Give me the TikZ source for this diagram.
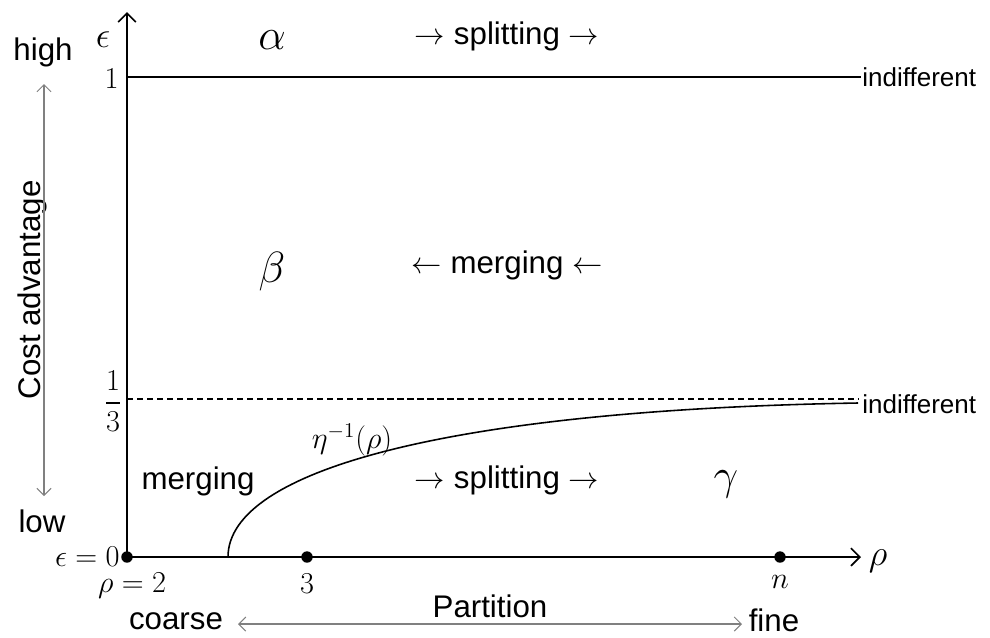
\documentclass[tikz,border=0pt]{standalone}
\usepackage{amsmath}
\usepackage{fontspec}
\setmainfont{Liberation Sans}
\usetikzlibrary{arrows.meta}
\begin{document}
\begin{tikzpicture}[x=0.02cm,y=-0.02cm,
  lbl/.style={font=\fontsize{17.8}{20}\selectfont, inner sep=0},
  mlbl/.style={font=\fontsize{18.5}{21}\selectfont, inner sep=0},
  greek/.style={font=\fontsize{27}{30}\selectfont, inner sep=0},
  small/.style={font=\fontsize{14.8}{17}\selectfont, inner sep=0},
  axis/.style={line width=1pt, -{Straight Barb[length=5pt,width=10pt]}},
  grayarr/.style={draw=gray, line width=0.6pt, {Straight Barb[length=4pt,width=8pt]}-{Straight Barb[length=4pt,width=8pt]}},
  dot/.style={circle, fill=black, inner sep=0, minimum size=6.5pt}]
\path[use as bounding box] (0,0) rectangle (990,637);
% axes
\coordinate (o) at (127,557);
\coordinate (ytop) at (127,12);
\coordinate (xend) at (861,557);
\draw[axis] (o) -- (ytop);
\draw[axis] (o) -- (xend);
% level lines
\coordinate (oneL) at (127,77);
\coordinate (oneR) at (861,77);
\draw[line width=0.9pt] (oneL) -- (oneR);
\coordinate (thL) at (127,399);
\coordinate (thR) at (859,399);
\draw[line width=0.8pt, dash pattern=on 3.5pt off 2.2pt] (thL) -- (thR);
\node[small, anchor=west] (ind1) at (862,77) {indifferent};
\node[small, anchor=west] (ind2) at (862,404) {indifferent};
% curve
\coordinate (c0) at (228,557);
\coordinate (c1) at (858,403);
\draw[line width=0.9pt] (c0) .. controls (228,470) and (450,410) .. (c1);
\node[mlbl] (eta) at (352,440) {$\eta^{-1}(\rho)$};
% dots
\node[dot] (d0) at (127,557) {};
\node[dot] (d3) at (307,557) {};
\node[dot] (dn) at (780,557) {};
% axis labels
\node[font=\fontsize{21}{24}\selectfont, inner sep=0] (eps) at (103,40) {$\epsilon$};
\node[mlbl, anchor=east] (l1) at (119,79) {$1$};
\node[mlbl] (l13) at (113,401) {$\dfrac{1}{3}$};
\node[mlbl, anchor=east] (e0) at (120,557) {$\epsilon = 0$};
\node[mlbl] (r2) at (132,586) {$\rho = 2$};
\node[mlbl] (l3) at (307,584) {$3$};
\node[mlbl] (ln) at (780,582) {$n$};
\node[font=\fontsize{21}{24}\selectfont, inner sep=0] (rho) at (878,561) {$\rho$};
% cost advantage
\node[lbl] (high) at (43,52) {high};
\node[lbl] (low) at (42,521) {low};
\node[lbl, rotate=90] (cost) at (32,290) {Cost advantage};
\coordinate (vt) at (44,84);
\coordinate (vb) at (44,496);
\draw[grayarr] (vt) -- (vb);
% partition
\node[lbl] (coarse) at (176,621) {coarse};
\node[lbl] (fine) at (774,620) {fine};
\node[lbl] (part) at (490,606) {Partition};
\coordinate (hl) at (238,624);
\coordinate (hr) at (742,624);
\draw[grayarr] (hl) -- (hr);
% regions
\node[greek] (alpha) at (272,40) {$\alpha$};
\node[greek] (beta) at (272,272) {$\beta$};
\node[greek] (gamma) at (726,484) {$\gamma$};
\node[lbl] (s1) at (507,36) {$\rightarrow$ splitting $\rightarrow$};
\node[lbl] (m1) at (507,265) {$\leftarrow$ merging $\leftarrow$};
\node[lbl] (m2) at (198,481) {merging};
\node[lbl] (s2) at (507,480) {$\rightarrow$ splitting $\rightarrow$};
\end{tikzpicture}
\end{document}
